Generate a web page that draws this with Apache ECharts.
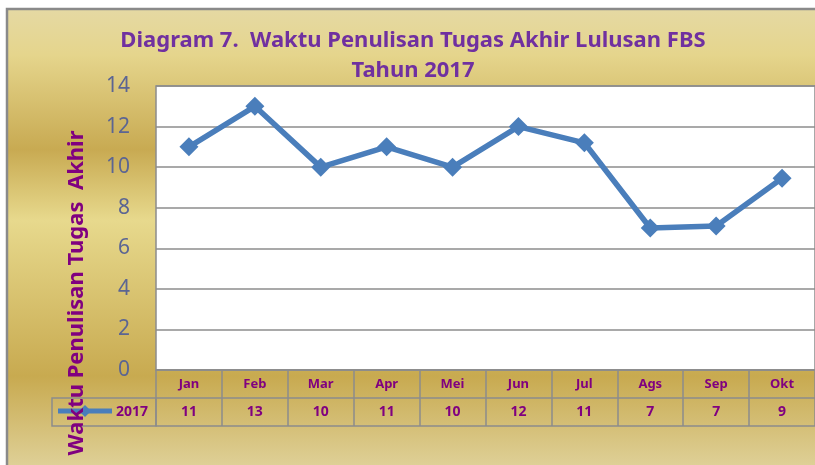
<!DOCTYPE html>
<html>
<head>
<meta charset="utf-8">
<script src="https://cdn.jsdelivr.net/npm/echarts@6/dist/echarts.min.js"></script>
<style>
  html, body { margin: 0; padding: 0; background: #fff; }
  #chart { width: 815px; height: 465px; }
</style>
</head>
<body>
<div id="chart"></div>
<script>
// data
const months = ['Jan', 'Feb', 'Mar', 'Apr', 'Mei', 'Jun', 'Jul', 'Ags', 'Sep', 'Okt'];
const values2017 = [11, 13, 10, 11, 10, 12, 11.2, 7, 7.1, 9.45];
const tableValues = ['11', '13', '10', '11', '10', '12', '11', '7', '7', '9'];
const yTicks = { min: 0, max: 14, interval: 2 };
const seriesName = '2017';

const purple = '#800080';
const gridGray = '#8c8c8c';
const lineBlue = '#4a7ebb';
const font = '"Noto Sans", sans-serif';

const chart = echarts.init(document.getElementById('chart'), null, { renderer: 'canvas' });

const gold = {
  type: 'linear', x: 0, y: 0, x2: 0, y2: 1,
  colorStops: [
    { offset: 0, color: '#e5d9a4' },
    { offset: 0.1, color: '#e5d58c' },
    { offset: 0.3, color: '#c8aa52' },
    { offset: 0.45, color: '#e7d98d' },
    { offset: 0.78, color: '#c8aa50' },
    { offset: 1, color: '#e2d6a2' }
  ]
};

const axisBase = {
  type: 'category',
  data: months,
  boundaryGap: true,
  position: 'bottom',
  axisLine: { show: true, lineStyle: { color: gridGray, width: 1.5 } },
  axisTick: { show: false },
  splitLine: { show: false }
};

const option = {
  backgroundColor: '#fff',
  animation: false,
  title: {
    text: 'Diagram 7.  Waktu Penulisan Tugas Akhir Lulusan FBS\nTahun 2017',
    left: 408,
    textAlign: 'center',
    top: 21,
    textStyle: { color: '#7030a0', fontFamily: font, fontWeight: 'bold', fontSize: 22, lineHeight: 30 }
  },
  grid: {
    left: 156, right: 0, top: 86, bottom: 95,
    show: true, backgroundColor: '#fff', borderColor: gridGray, borderWidth: 1.5
  },
  xAxis: [
    Object.assign({}, axisBase, {
      axisTick: { show: true, length: 56, inside: false, lineStyle: { color: gridGray, width: 1.5 } },
      axisLabel: { margin: 7, color: purple, fontFamily: font, fontWeight: 'bold', fontSize: 13, lineHeight: 14 }
    }),
    Object.assign({}, axisBase, {
      offset: 28,
      axisLabel: {
        margin: 7, color: purple, fontFamily: font, fontWeight: 'bold', fontSize: 14, lineHeight: 14,
        formatter: (v, i) => tableValues[i]
      }
    }),
    Object.assign({}, axisBase, {
      offset: 56,
      axisLabel: { show: false }
    })
  ],
  yAxis: {
    type: 'value',
    min: yTicks.min,
    max: yTicks.max,
    interval: yTicks.interval,
    axisLine: { show: false },
    axisTick: { show: false },
    axisLabel: { margin: 26, color: '#5b6593', fontFamily: font, fontSize: 21 },
    splitLine: { lineStyle: { color: gridGray, width: 1.5 } }
  },
  series: [{
    name: seriesName,
    type: 'line',
    data: values2017,
    symbol: 'diamond',
    symbolSize: 19,
    showSymbol: true,
    itemStyle: { color: lineBlue },
    lineStyle: { color: lineBlue, width: 5.5 },
    z: 5
  }],
  graphic: [
    {
      type: 'rect', z: -10, silent: true,
      shape: { x: 7, y: 9, width: 820, height: 470 },
      style: { fill: gold, stroke: '#8a8a8a', lineWidth: 2.5 }
    },
    {
      type: 'rect', z: 10, silent: true,
      shape: { x: 52, y: 398, width: 104, height: 28 },
      style: { fill: 'transparent', stroke: gridGray, lineWidth: 1.5 }
    },
    {
      type: 'line', z: 10, silent: true,
      shape: { x1: 58, y1: 411, x2: 112, y2: 411 },
      style: { stroke: lineBlue, lineWidth: 5 }
    },
    {
      type: 'polygon', z: 10, silent: true,
      shape: { points: [[85, 405], [91, 411], [85, 417], [79, 411]] },
      style: { fill: lineBlue }
    },
    {
      type: 'text', z: 11, silent: true,
      x: 148, y: 412,
      style: {
        text: seriesName, align: 'right', verticalAlign: 'middle',
        fill: purple, font: 'bold 14px "Noto Sans", sans-serif'
      }
    },
    {
      type: 'text', z: 12, silent: true,
      x: 77, y: 293, rotation: Math.PI / 2,
      style: {
        text: 'Waktu Penulisan Tugas  Akhir', align: 'center', verticalAlign: 'middle',
        fill: purple, font: 'bold 22px "Noto Sans", sans-serif'
      }
    }
  ]
};

chart.setOption(option);
</script>
</body>
</html>
